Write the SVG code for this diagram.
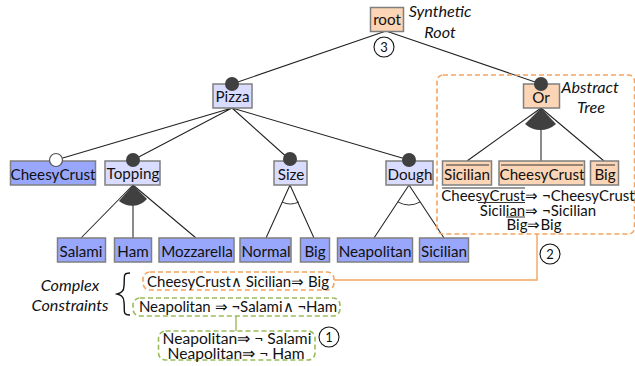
<svg xmlns="http://www.w3.org/2000/svg" width="635" height="366" viewBox="0 0 635 366">
<style>
text{font-family:Lato,"Liberation Sans",sans-serif;font-size:15.2px;fill:#111;text-anchor:middle}
.i{font-style:italic;font-size:16.2px}
.f{font-size:15px}
.s{font-size:15.6px}
.a{fill:#fbd5b5;stroke:#7f7f7f;stroke-width:1.5}
.m{fill:#d9dcff;stroke:#7f7f7f;stroke-width:1.5}
.l{fill:#98a6fb;stroke:#7f7f7f;stroke-width:1.5}
.c{stroke:#222;stroke-width:1.05;fill:none}
.d{fill:#404040}
.o{fill:none;stroke:#f4a460;stroke-width:1.6;stroke-dasharray:5 3}
.g{fill:none;stroke:#9bbb59;stroke-width:1.6;stroke-dasharray:5 3}
.n{fill:#fff;stroke:#111;stroke-width:1.1}
.b{stroke:#333;stroke-width:1;fill:none}
</style>
<g id="connectors">
<path class="c" d="M386 31L232 84M386 31L541 84M232 108L56 160M232 108L133 160M232 108L290 160M232 108L409 160"/>
<path class="c" d="M133 185L81 238M133 185V238M133 185L196 238M290 185L266 238M290 185L314 238M409 185L374 238M409 185L444 238"/>
<path class="c" d="M541 108L467 161M541 108V161M541 108L604 161"/>
<path d="M334 280H537V234" fill="none" stroke="#f4a460" stroke-width="1.4"/>
<path d="M236 316V331" fill="none" stroke="#9bbb59" stroke-width="1.4"/>
</g>
<g id="abstract-region"><rect class="o" x="437" y="75" width="197.500" height="159" rx="6"/>
<text class="i" x="590" y="93">Abstract</text><text class="i" x="591" y="113">Tree</text></g>
<g id="root"><rect class="a" x="370.500" y="7.500" width="33" height="24"/><text x="387" y="25">root</text>
<text class="i" x="440" y="17">Synthetic</text><text class="i" x="440" y="38">Root</text></g>
<g id="pizza"><rect class="m" x="213" y="84" width="39" height="24"/><text x="232.500" y="102">Pizza</text><circle class="d" cx="232" cy="84" r="7"/></g>
<g id="or"><rect class="a" x="523.500" y="84" width="36" height="24"/><text x="541" y="103">Or</text><circle class="d" cx="541" cy="84" r="7"/>
<path class="d" d="M541 108L525 124A23 23 0 0 0 556 124Z"/></g>
<g id="cheesycrust"><rect class="l" x="10.500" y="161" width="85" height="24"/><text x="53" y="180">CheesyCrust</text><circle cx="56" cy="160" r="6.500" fill="#fff" stroke="#555" stroke-width="1.2"/></g>
<g id="topping"><rect class="m" x="105" y="161" width="55" height="24"/><text x="133" y="179">Topping</text><circle class="d" cx="133" cy="160" r="7"/>
<path class="d" d="M133 185L119 201A20 20 0 0 0 147 199Z"/></g>
<g id="size"><rect class="m" x="274" y="161" width="33" height="24"/><text x="291" y="180">Size</text><circle class="d" cx="290" cy="159" r="7"/>
<path class="b" d="M282 202Q290 206 299 202"/></g>
<g id="dough"><rect class="m" x="386" y="161" width="47" height="24"/><text x="410" y="180">Dough</text><circle class="d" cx="409" cy="160" r="7"/>
<path class="b" d="M398 202Q409 208 420 202"/></g>
<g id="salami"><rect class="l" x="57.500" y="238" width="48" height="24"/><text x="81" y="257">Salami</text></g>
<g id="ham"><rect class="l" x="114.500" y="238" width="37" height="24"/><text x="133" y="257">Ham</text></g>
<g id="mozzarella"><rect class="l" x="159" y="238" width="75" height="24"/><text x="197" y="257">Mozzarella</text></g>
<g id="normal"><rect class="l" x="240" y="238" width="51" height="24"/><text x="266" y="257">Normal</text></g>
<g id="big"><rect class="l" x="300.500" y="238" width="29" height="24"/><text x="315" y="257">Big</text></g>
<g id="neapolitan"><rect class="l" x="337.500" y="238" width="75" height="24"/><text x="375" y="257">Neapolitan</text></g>
<g id="sicilian"><rect class="l" x="419.500" y="238" width="49" height="24"/><text x="444" y="257">Sicilian</text></g>
<g id="abs-sicilian"><rect class="a" x="442.500" y="161" width="49" height="24"/><text x="467" y="180">Sicilian</text><path class="b" d="M446 165H489"/></g>
<g id="abs-cheesycrust"><rect class="a" x="499" y="161" width="85.500" height="24"/><text x="542" y="180">CheesyCrust</text><path class="b" d="M501 165H583"/></g>
<g id="abs-big"><rect class="a" x="590.500" y="161" width="28" height="24"/><text x="605" y="180">Big</text><path class="b" d="M596 165H615"/></g>
<g id="abstract-constraints">
<text class="f" x="538" y="201">CheesyCrust⇒ ¬CheesyCrust</text>
<text class="f" x="538" y="216">Sicilian⇒ ¬Sicilian</text>
<text class="f" x="534" y="229.500">Big⇒Big</text>
<path class="b" d="M442 188H525M478 202.500H525M506 217H525"/>
</g>
<g id="complex-constraints">
<text class="i" x="70" y="291">Complex</text><text class="i" x="70" y="311">Constraints</text>
<path d="M130 273C122 273 125 277 124 286C124 292 120 293 117 294C120 295 124 296 124 302C125 311 122 315 130 315" fill="none" stroke="#111" stroke-width="1.4"/>
</g>
<g id="constraint-orange"><rect class="o" x="143" y="272" width="191" height="18" rx="7"/><text class="f" x="238" y="287">CheesyCrust∧ Sicilian⇒ Big</text></g>
<g id="constraint-green"><rect class="g" x="133" y="298" width="207" height="18" rx="7"/><text class="f" x="238" y="312">Neapolitan ⇒ ¬Salami∧ ¬Ham</text></g>
<g id="constraint-split"><rect class="g" x="158.500" y="331" width="156.500" height="29" rx="7"/><text class="s" x="237" y="344">Neapolitan⇒ ¬ Salami</text><text class="s" x="236" y="359">Neapolitan⇒ ¬ Ham</text></g>
<g id="badge-1"><circle class="n" cx="329" cy="337" r="10"/><text x="329" y="342" style="font-size:13px">1</text></g>
<g id="badge-2"><circle class="n" cx="550" cy="254" r="10"/><text x="550" y="259" style="font-size:13px">2</text></g>
<g id="badge-3"><circle class="n" cx="384" cy="47" r="10"/><text x="384" y="52" style="font-size:13px">3</text></g>
</svg>
